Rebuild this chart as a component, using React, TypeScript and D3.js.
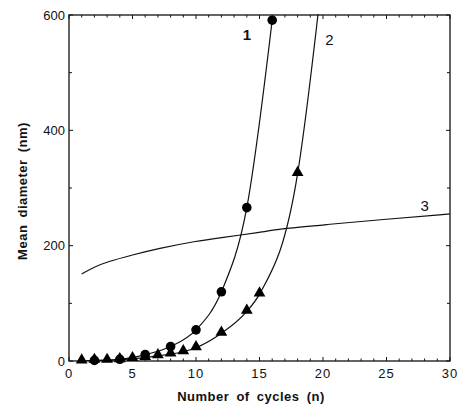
import React, { useEffect, useRef } from 'react';
import * as d3 from 'd3';

// series 1: circles
const cyclesA = [2, 4, 6, 8, 10, 12, 14, 16];
const diamA = [1, 3, 11, 25, 54, 120, 266, 591];

// series 2: triangles
const cyclesB = [1, 2, 3, 4, 5, 6, 7, 8, 9, 10, 12, 14, 15, 18];
const diamB = [0, 1, 1, 2, 4, 6, 9, 12, 16, 23, 48, 86, 116, 325];
// curve 2 keeps rising past the last marker
const tailB = [[19.6, 600], [20.2, 720]];

// series 3: plain line
const cyclesC = [1, 2, 3, 5, 7, 10, 12, 15, 17, 20, 25, 30];
const diamC = [151, 163, 172, 184, 195, 208, 214, 223, 230, 236, 246, 255];

const curveLabels = [
  { text: '1', x: 14.0, y: 565 },
  { text: '2', x: 20.5, y: 557 },
  { text: '3', x: 28.0, y: 270 },
];

const xTicks = [0, 5, 10, 15, 20, 25, 30];
const yTicks = [0, 200, 400, 600];

const W = 458;
const H = 406;
const FONT = '"Liberation Sans", Arial, Helvetica, sans-serif';

export default function App() {
  const svgRef = useRef<SVGSVGElement>(null);

  useEffect(() => {
    const margin = { top: 15, right: 8, bottom: 45, left: 69 };
    const width = W - margin.left - margin.right;
    const height = H - margin.top - margin.bottom;

    const svg = d3.select(svgRef.current);
    svg.selectAll('*').remove();

    const g = svg.append('g').attr('transform', `translate(${margin.left},${margin.top})`);

    const x = d3.scaleLinear().domain([0, 30]).range([0, width]);
    const y = d3.scaleLinear().domain([0, 600]).range([height, 0]);

    svg.append('defs').append('clipPath').attr('id', 'plot-clip')
      .append('rect').attr('x', 0).attr('y', -1).attr('width', width).attr('height', height + 1);

    // frame
    g.append('rect')
      .attr('width', width).attr('height', height)
      .attr('fill', 'none').attr('stroke', '#111').attr('stroke-width', 1.3);

    // inward ticks
    const minorX = d3.range(0, 31, 1);
    const minorY = d3.range(0, 601, 100);
    const tick = g.append('g').attr('stroke', '#111').attr('stroke-width', 1);
    minorX.forEach(v => {
      const len = v % 5 === 0 ? 4 : 2.5;
      tick.append('line').attr('x1', x(v)).attr('x2', x(v)).attr('y1', height).attr('y2', height - len);
      tick.append('line').attr('x1', x(v)).attr('x2', x(v)).attr('y1', 0).attr('y2', len);
    });
    minorY.forEach(v => {
      const len = v % 200 === 0 ? 4 : 3;
      tick.append('line').attr('x1', 0).attr('x2', len).attr('y1', y(v)).attr('y2', y(v));
      tick.append('line').attr('x1', width).attr('x2', width - len).attr('y1', y(v)).attr('y2', y(v));
    });

    // tick labels
    g.selectAll('.xl').data(xTicks).enter().append('text')
      .attr('x', d => x(d)).attr('y', height + 17)
      .attr('text-anchor', 'middle')
      .style('font-family', FONT).style('font-size', '13px').style('letter-spacing', '1px')
      .style('fill', '#111')
      .text(d => d);

    g.selectAll('.yl').data(yTicks).enter().append('text')
      .attr('x', -4).attr('y', d => y(d)).attr('dy', '0.35em')
      .attr('text-anchor', 'end')
      .style('font-family', FONT).style('font-size', '13px')
      .style('fill', '#111')
      .text(d => d);

    // axis titles
    svg.append('text')
      .attr('x', 251).attr('y', 401)
      .attr('text-anchor', 'middle')
      .style('font-family', FONT).style('font-size', '13px').style('font-weight', 'bold')
      .style('letter-spacing', '0.5px').style('word-spacing', '3px')
      .style('fill', '#111')
      .text('Number of cycles (n)');

    svg.append('text')
      .attr('transform', `translate(27,191) rotate(-90)`)
      .attr('text-anchor', 'middle')
      .style('font-family', FONT).style('font-size', '13px').style('font-weight', 'bold')
      .style('letter-spacing', '0.5px').style('word-spacing', '3px')
      .style('fill', '#111')
      .text('Mean diameter (nm)');

    const plot = g.append('g').attr('clip-path', 'url(#plot-clip)');
    const line = d3.line<number[]>()
      .x(d => x(d[0])).y(d => y(d[1]))
      .curve(d3.curveMonotoneX);
    const smooth = d3.line<number[]>()
      .x(d => x(d[0])).y(d => y(d[1]))
      .curve(d3.curveBasis);

    const ptsA = cyclesA.map((c, i) => [c, diamA[i]]);
    const ptsB = cyclesB.map((c, i) => [c, diamB[i]]);
    const ptsC = cyclesC.map((c, i) => [c, diamC[i]]);

    [line(ptsA), line(ptsB.concat(tailB)), smooth(ptsC)].forEach(dPath => {
      plot.append('path')
        .attr('d', dPath)
        .attr('fill', 'none').attr('stroke', '#111').attr('stroke-width', 1.2);
    });

    // triangles then circles on top
    const tri = d3.symbol().type(d3.symbolTriangle).size(60);
    g.selectAll('.tri').data(ptsB).enter().append('path')
      .attr('d', tri)
      .attr('transform', d => `translate(${x(d[0])},${y(d[1]) - 1})`)
      .attr('fill', '#000');

    g.selectAll('.dot').data(ptsA).enter().append('circle')
      .attr('cx', d => x(d[0])).attr('cy', d => y(d[1]))
      .attr('r', 4.8)
      .attr('fill', '#000');

    g.selectAll('.cl').data(curveLabels).enter().append('text')
      .attr('x', d => x(d.x)).attr('y', d => y(d.y)).attr('dy', '0.35em')
      .attr('text-anchor', 'middle')
      .style('font-family', FONT).style('font-size', '15px')
      .style('font-weight', d => (d.text === '1' ? 'bold' : 'normal'))
      .style('fill', '#111')
      .text(d => d.text);
  }, []);

  return (
    <svg ref={svgRef} width={W} height={H}
      style={{ position: 'absolute', left: 0, top: 0, background: '#fff', display: 'block' }} />
  );
}
